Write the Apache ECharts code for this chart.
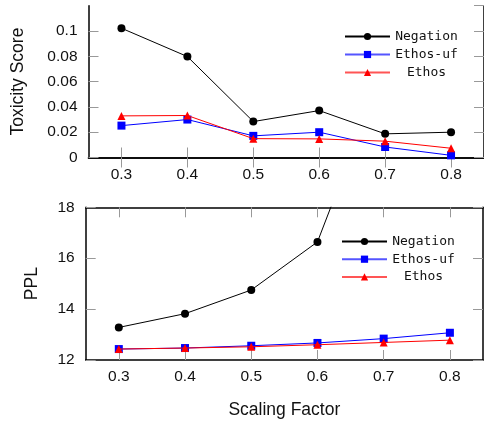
<!DOCTYPE html>
<html>
<head>
<meta charset="utf-8">
<script src="https://cdn.jsdelivr.net/npm/echarts@6/dist/echarts.min.js"></script>
<style>html,body{margin:0;padding:0;background:#fff}#c{width:484px;height:421px}</style>
</head>
<body>
<div id="c"></div>
<script>
const categories = ['0.3', '0.4', '0.5', '0.6', '0.7', '0.8'];
const seriesNames = ['Negation', 'Ethos-uf', 'Ethos'];
const toxNegation = [0.1022, 0.0798, 0.0284, 0.0371, 0.0187, 0.0200];
const toxEthosUf = [0.0252, 0.0300, 0.0171, 0.0200, 0.0083, 0.0017];
const toxEthos = [0.0329, 0.0332, 0.0149, 0.0147, 0.0129, 0.0073];
const pplNegation = [13.28, 13.82, 14.75, 16.64, 23.4, 28.0];
const pplEthosUf = [12.43, 12.47, 12.56, 12.67, 12.84, 13.07];
const pplEthos = [12.43, 12.47, 12.52, 12.60, 12.69, 12.78];
const toxTicks = { min: 0, max: 0.12, interval: 0.02 };
const pplTicks = { min: 12, max: 18, interval: 2 };

const FONT = 'Liberation Sans';
const MONO = 'DejaVu Sans Mono';
const colors = ['#000000', '#0000ff', '#ff0000'];
const legendLine = ['#000000', '#5555ff', '#ff5555'];
const symbols = ['circle', 'rect', 'triangle'];
const symSizes = [8, 8, 8];

function xAxes(gi) {
  const base = {
    type: 'category', gridIndex: gi, data: categories, boundaryGap: true,
    axisLine: { show: true, lineStyle: { color: '#000', width: 1.5 } },
    axisTick: { show: true, inside: true, length: 10, alignWithLabel: true, lineStyle: { color: '#999', width: 1 } },
    splitLine: { show: false }
  };
  return [
    Object.assign({}, base, { position: 'bottom',
      axisLabel: { show: true, margin: 9, fontFamily: FONT, fontSize: 15.5, color: '#111' },
      name: gi === 1 ? 'Scaling Factor' : '', nameLocation: 'middle', nameGap: 41,
      nameTextStyle: { fontFamily: FONT, fontSize: 17.5, color: '#111' } }),
    Object.assign({}, base, { position: 'top', axisLabel: { show: false } })
  ];
}
function yAxes(gi, t, name, gap) {
  const base = {
    type: 'value', gridIndex: gi, min: t.min, max: t.max, interval: t.interval,
    axisLine: { show: true, lineStyle: { color: '#000', width: 1.5 } },
    axisTick: { show: true, inside: true, length: 10, lineStyle: { color: '#999', width: 1 } },
    splitLine: { show: false }
  };
  return [
    Object.assign({}, base, { position: 'left',
      axisLabel: { show: true, margin: 11, fontFamily: FONT, fontSize: 15.5, color: '#111', showMaxLabel: gi === 1 },
      name: name, nameLocation: 'middle', nameGap: gap, nameRotate: 90,
      nameTextStyle: { fontFamily: FONT, fontSize: 17.5, color: '#111' } }),
    Object.assign({}, base, { position: 'right', axisLabel: { show: false } })
  ];
}
function makeSeries(gi, arrays) {
  return arrays.map((d, i) => ({
    type: 'line', name: seriesNames[i], xAxisIndex: gi * 2, yAxisIndex: gi * 2, data: d,
    symbol: symbols[i], symbolSize: symSizes[i], showAllSymbol: true,
    lineStyle: { color: colors[i], width: 1 },
    itemStyle: { color: colors[i] },
    clip: true, animation: false, z: 2 + i
  }));
}
function makeLegend(left, top, gap) {
  return {
    orient: 'vertical', left: left, top: top, padding: 0,
    itemWidth: 45, itemHeight: 9, itemGap: gap, itemTextGap: 6,
    data: seriesNames.map((n, i) => ({ name: n, lineStyle: { color: legendLine[i], width: 2 } })),
    formatter: n => '{t|' + n + '}',
    textStyle: { fontFamily: MONO, fontSize: 13, color: '#111',
      rich: { t: { width: 63, align: 'center', fontFamily: MONO, fontSize: 13, color: '#111' } } },
    selectedMode: false
  };
}

const chart = echarts.init(document.getElementById('c'), null, { renderer: 'canvas' });
chart.setOption({
  animation: false,
  backgroundColor: '#fff',
  grid: [
    { left: 88.5, top: 5.7, width: 397.3, height: 151.8 },
    { left: 85.7, top: 207.3, width: 397.3, height: 152.7 }
  ],
  xAxis: xAxes(0).concat(xAxes(1)),
  yAxis: yAxes(0, toxTicks, 'Toxicity Score', 61).concat(yAxes(1, pplTicks, 'PPL', 45)),
  legend: [makeLegend(344, 30, 5), makeLegend(341, 235, 4.7)],
  series: makeSeries(0, [toxNegation, toxEthosUf, toxEthos]).concat(makeSeries(1, [pplNegation, pplEthosUf, pplEthos]))
});
</script>
</body>
</html>
